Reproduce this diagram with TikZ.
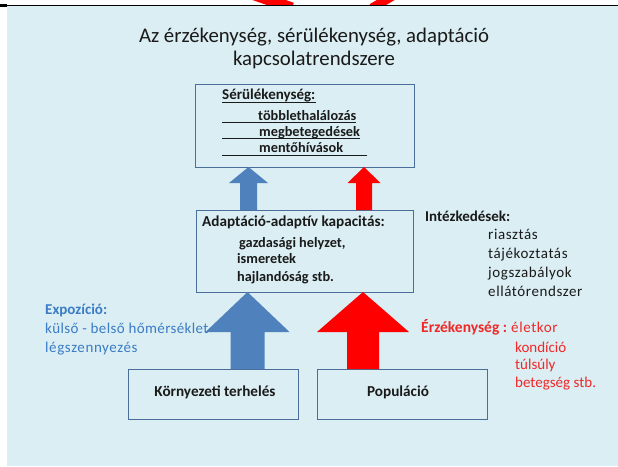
\documentclass[tikz,border=0pt]{standalone}
\usepackage{fontspec}
\setmainfont{Carlito}
\newfontfamily\spacedfont[LetterSpace=4]{Carlito}
\newfontfamily\lessspacedfont[LetterSpace=2.5]{Carlito}
\usetikzlibrary{calc}
\definecolor{bgc}{HTML}{DAEEF3}
\definecolor{boxc}{HTML}{4A6D9A}
\definecolor{arrblue}{HTML}{4F81BD}
\definecolor{arrred}{HTML}{FF0000}
\definecolor{txtblue}{HTML}{3B7CC4}
\definecolor{txtred}{HTML}{F02828}
\definecolor{txtdark}{HTML}{1A1A1A}
\newcommand\blockarr[7]{%
  \fill[#7] (#1,#2) -- ({#1+#5},#3) -- ({#1+#6},#3) -- ({#1+#6},#4) -- ({#1-#6},#4) -- ({#1-#6},#3) -- ({#1-#5},#3) -- cycle;}
\tikzset{
  panelbox/.style={draw=boxc, line width=0.9pt, fill=bgc},
  lbl/.style={anchor=base west, inner sep=0pt, text=txtdark},
  bsm/.style={lbl, font=\fontsize{14.3}{16}\selectfont\bfseries},
  rsm/.style={lbl, font=\fontsize{15}{17}\selectfont\spacedfont},
}
\begin{document}
\begin{tikzpicture}[x=1pt,y=-1pt]
\useasboundingbox (0,0) rectangle (618,466);
\fill[white] (0,0) rectangle (618,466);
\fill[bgc] (7,5) rectangle (618,466);
% top fragments
\begin{scope}
\clip (0,0) rectangle (618,5);
\draw[arrred, line width=11pt] (252,-6) -- (292,8);
\draw[arrred, line width=9pt] (396,-6) -- (372,8);
\end{scope}
\draw[black, line width=1pt] (0,5) -- (618,5);
\fill[black] (0,3.5) rectangle (7,7);
% title
\node[font=\fontsize{20.8}{24}\selectfont, text=txtdark, inner sep=0pt] (t1) at (314,37) {Az érzékenység, sérülékenység, adaptáció};
\node[font=\fontsize{20.8}{24}\selectfont, text=txtdark, inner sep=0pt] (t2) at (314,60) {kapcsolatrendszere};
% boxes
\draw[panelbox] (195,84) rectangle (414,167);
\draw[panelbox] (196,210) rectangle (413,292);
\draw[panelbox] (128,369) rectangle (298,419);
\draw[panelbox] (317,369) rectangle (487,419);
\node[font=\fontsize{15.2}{17}\selectfont\bfseries, text=txtdark] (korny) at (215,392) {Környezeti terhelés};
\node[font=\fontsize{15.2}{17}\selectfont\bfseries, text=txtdark] (pop) at (398,392) {Populáció};
% arrows
\blockarr{248.5}{167}{183}{210}{19.5}{8.5}{arrblue}
\blockarr{364}{167}{183}{210}{16.5}{8}{arrred}
\blockarr{247.5}{292}{332}{369}{42}{17}{arrblue}
\blockarr{363}{292}{332}{369}{46}{16}{arrred}
% Sérülékenység
\node[bsm, font=\fontsize{15}{17}\selectfont\bfseries] (s0) at (222,99) {Sérülékenység:};
\draw[txtdark, line width=0.8pt] (222,102) -- ($(s0.base east)+(0,3)$);
\node[bsm] (s1) at (258,120) {többlethalálozás};
\draw[txtdark, line width=0.8pt] (222,122.5) -- ($(s1.base east)+(0,2.5)$);
\node[bsm] (s2) at (259,136) {megbetegedések};
\draw[txtdark, line width=0.8pt] (222,138.5) -- ($(s2.base east)+(0,2.5)$);
\node[bsm] (s3) at (259,152) {mentőhívások};
\draw[txtdark, line width=0.8pt] (222,155) -- (367,155);
% Adaptáció
\node[bsm, font=\fontsize{15.2}{17}\selectfont\bfseries] (a0) at (202,226) {Adaptáció-adaptív kapacitás:};
\node[bsm] (a1) at (239,247) {gazdasági helyzet,};
\node[bsm] (a2) at (237,263) {ismeretek};
\node[bsm] (a3) at (237,281) {hajlandóság stb.};
% Intézkedések
\node[bsm, font=\fontsize{15}{17}\selectfont\bfseries] (i0) at (425,221) {Intézkedések:};
\node[rsm] (i1) at (488,239) {riasztás};
\node[rsm] (i2) at (488,258) {tájékoztatás};
\node[rsm] (i3) at (488,277) {jogszabályok};
\node[rsm] (i4) at (488,296) {ellátórendszer};
% Expozíció
\node[lbl, text=txtblue, font=\fontsize{15}{17}\selectfont\bfseries] (e0) at (45,314) {Expozíció:};
\node[lbl, text=txtblue, font=\fontsize{15}{17}\selectfont\lessspacedfont] (e1) at (45,333) {külső - belső hőmérséklet};
\node[lbl, text=txtblue, font=\fontsize{15}{17}\selectfont\spacedfont] (e2) at (45,352) {légszennyezés};
% Érzékenység
\node[lbl, text=txtred, font=\fontsize{15.5}{17}\selectfont\bfseries] (r0) at (421,332) {Érzékenység :};
\node[lbl, text=txtred, font=\fontsize{15}{17}\selectfont\spacedfont] (r1) at (511,332) {életkor};
\node[lbl, text=txtred, font=\fontsize{15}{17}\selectfont] (r2) at (515,352) {kondíció};
\node[lbl, text=txtred, font=\fontsize{15}{17}\selectfont] (r3) at (515,369) {túlsúly};
\node[lbl, text=txtred, font=\fontsize{15}{17}\selectfont] (r4) at (515,387) {betegség stb.};
\end{tikzpicture}
\end{document}
